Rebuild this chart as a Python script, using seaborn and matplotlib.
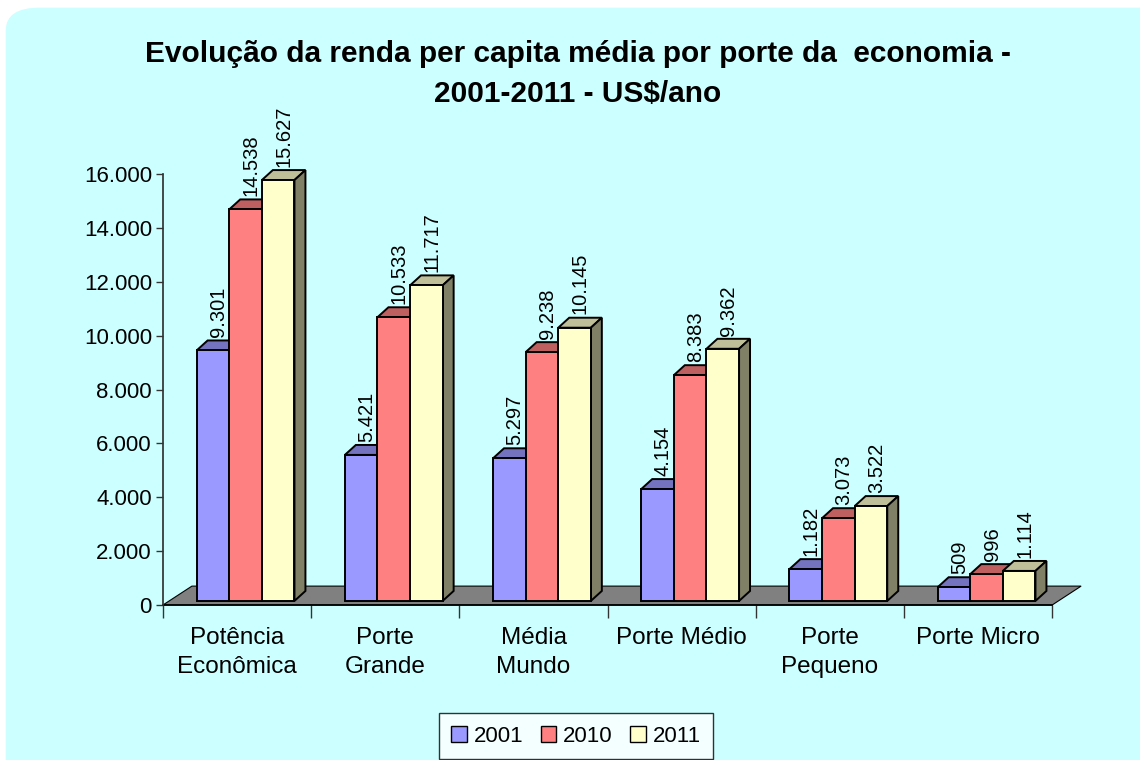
import pandas as pd
import seaborn as sns
import matplotlib.pyplot as plt
from matplotlib.patches import Polygon, FancyBboxPatch, Patch
from matplotlib.ticker import FuncFormatter

# data
categories = ["Potência\nEconômica", "Porte\nGrande", "Média\nMundo",
              "Porte Médio", "Porte\nPequeno", "Porte Micro"]
years = ["2001", "2010", "2011"]
renda_2001 = [9301, 5421, 5297, 4154, 1182, 509]
renda_2010 = [14538, 10533, 9238, 8383, 3073, 996]
renda_2011 = [15627, 11717, 10145, 9362, 3522, 1114]

colors = {"2001": "#9999FF", "2010": "#FF8080", "2011": "#FFFFCC"}

df = pd.DataFrame({
    "categoria": categories * 3,
    "ano": [y for y in years for _ in categories],
    "renda": renda_2001 + renda_2010 + renda_2011,
})

sns.set_theme(style="white")
plt.rcParams['font.family'] = ['Liberation Sans', 'DejaVu Sans']
plt.rcParams['text.color'] = 'black'
plt.rcParams['xtick.color'] = 'black'
plt.rcParams['ytick.color'] = 'black'

fig = plt.figure(figsize=(11.4, 7.6), dpi=100)
fig.patch.set_facecolor("white")
# rounded cyan panel behind everything
bg = FancyBboxPatch((0.005, -0.05), 1.05, 1.04, boxstyle="round,pad=0,rounding_size=0.03",
                    transform=fig.transFigure, facecolor="#CCFFFF", edgecolor="none",
                    zorder=-10)
fig.patches.append(bg)

ax = fig.add_axes([0.143, 0.204, 0.780, 0.567])
ax.set_facecolor("none")

lw = 1.4
sns.barplot(data=df, x="categoria", y="renda", hue="ano", palette=colors,
            width=0.66, edgecolor="black", linewidth=lw, saturation=1,
            legend=False, ax=ax)

# 3D look: depth of bars and floor (in data units)
bar_dx, bar_dy = 0.074, 370
floor_dx, floor_dy = 0.195, 700
base = 150
shift = 0.057


def shade(c, f):
    r, g, b = plt.matplotlib.colors.to_rgb(c)
    return (r * f, g * f, b * f)


floor = Polygon([(-0.5, 0), (5.5, 0), (5.5 + floor_dx, floor_dy), (-0.5 + floor_dx, floor_dy)],
                closed=True, facecolor="#808080", edgecolor="black", linewidth=0.8,
                clip_on=False, zorder=1)
ax.add_patch(floor)

for container, yr in zip(ax.containers, years):
    for p in container.patches:
        x0 = p.get_x() + shift
        w = p.get_width()
        h = p.get_height()
        p.set_x(x0)
        p.set_y(base)
        y0, y1 = base, base + h
        z = 2 + x0
        p.set_zorder(z + 0.01)
        p.set_clip_on(False)
        top = Polygon([(x0, y1), (x0 + bar_dx, y1 + bar_dy), (x0 + w + bar_dx, y1 + bar_dy), (x0 + w, y1)],
                      closed=True, facecolor=shade(colors[yr], 0.75), edgecolor="black",
                      linewidth=lw, zorder=z, clip_on=False)
        side = Polygon([(x0 + w, y0), (x0 + w + bar_dx, y0 + bar_dy), (x0 + w + bar_dx, y1 + bar_dy), (x0 + w, y1)],
                       closed=True, facecolor=shade(colors[yr], 0.5), edgecolor="black",
                       linewidth=lw, zorder=z, clip_on=False)
        ax.add_patch(top)
        ax.add_patch(side)
        ax.text(x0 + w / 2 + bar_dx / 2, y1 + bar_dy + 120, f"{int(h):,}".replace(",", "."),
                rotation=90, ha="center", va="bottom", fontsize=14.5, color="black",
                zorder=20)

ax.set_xlim(-0.5, 5.5)
ax.set_ylim(0, 16000)
ax.set_yticks(range(0, 16001, 2000))
ax.yaxis.set_major_formatter(FuncFormatter(lambda v, _: f"{int(v):,}".replace(",", ".")))

ax.set_xticks([i - 0.5 for i in range(7)], minor=True)
ax.tick_params(axis="x", which="minor", length=9, width=1, color="#333333", direction="out", bottom=True)
ax.tick_params(axis="x", which="major", length=0, pad=16, labelsize=17.5)
ax.tick_params(axis="y", length=5, width=1, color="#333333", direction="out", left=True,
               labelsize=16, pad=3)
for lab in ax.get_xticklabels():
    lab.set_linespacing(1.4)

for s in ["top", "right"]:
    ax.spines[s].set_visible(False)
ax.spines["left"].set_color("#333333")
ax.spines["bottom"].set_color("black")
ax.spines["bottom"].set_zorder(1.5)
ax.set_xlabel("")
ax.set_ylabel("")

fig.text(0.507, 1 - 74 / 760,
         "Evolução da renda per capita média por porte da  economia -\n2001-2011 - US$/ano",
         ha="center", va="center", fontsize=21.5, fontweight="bold", linespacing=1.5)

handles = [Patch(facecolor=colors[y], edgecolor="black", linewidth=1) for y in years]
leg = fig.legend(handles, years, loc="center", bbox_to_anchor=(576 / 1140, 1 - 736 / 760),
                 ncol=3, fontsize=16, frameon=True, fancybox=False, edgecolor="black",
                 handlelength=0.7, handleheight=0.7, handletextpad=0.3, columnspacing=0.8,
                 borderpad=0.55)
leg.get_frame().set_linewidth(1)
leg.get_frame().set_facecolor("white")

plt.savefig("out.png", dpi=100)
